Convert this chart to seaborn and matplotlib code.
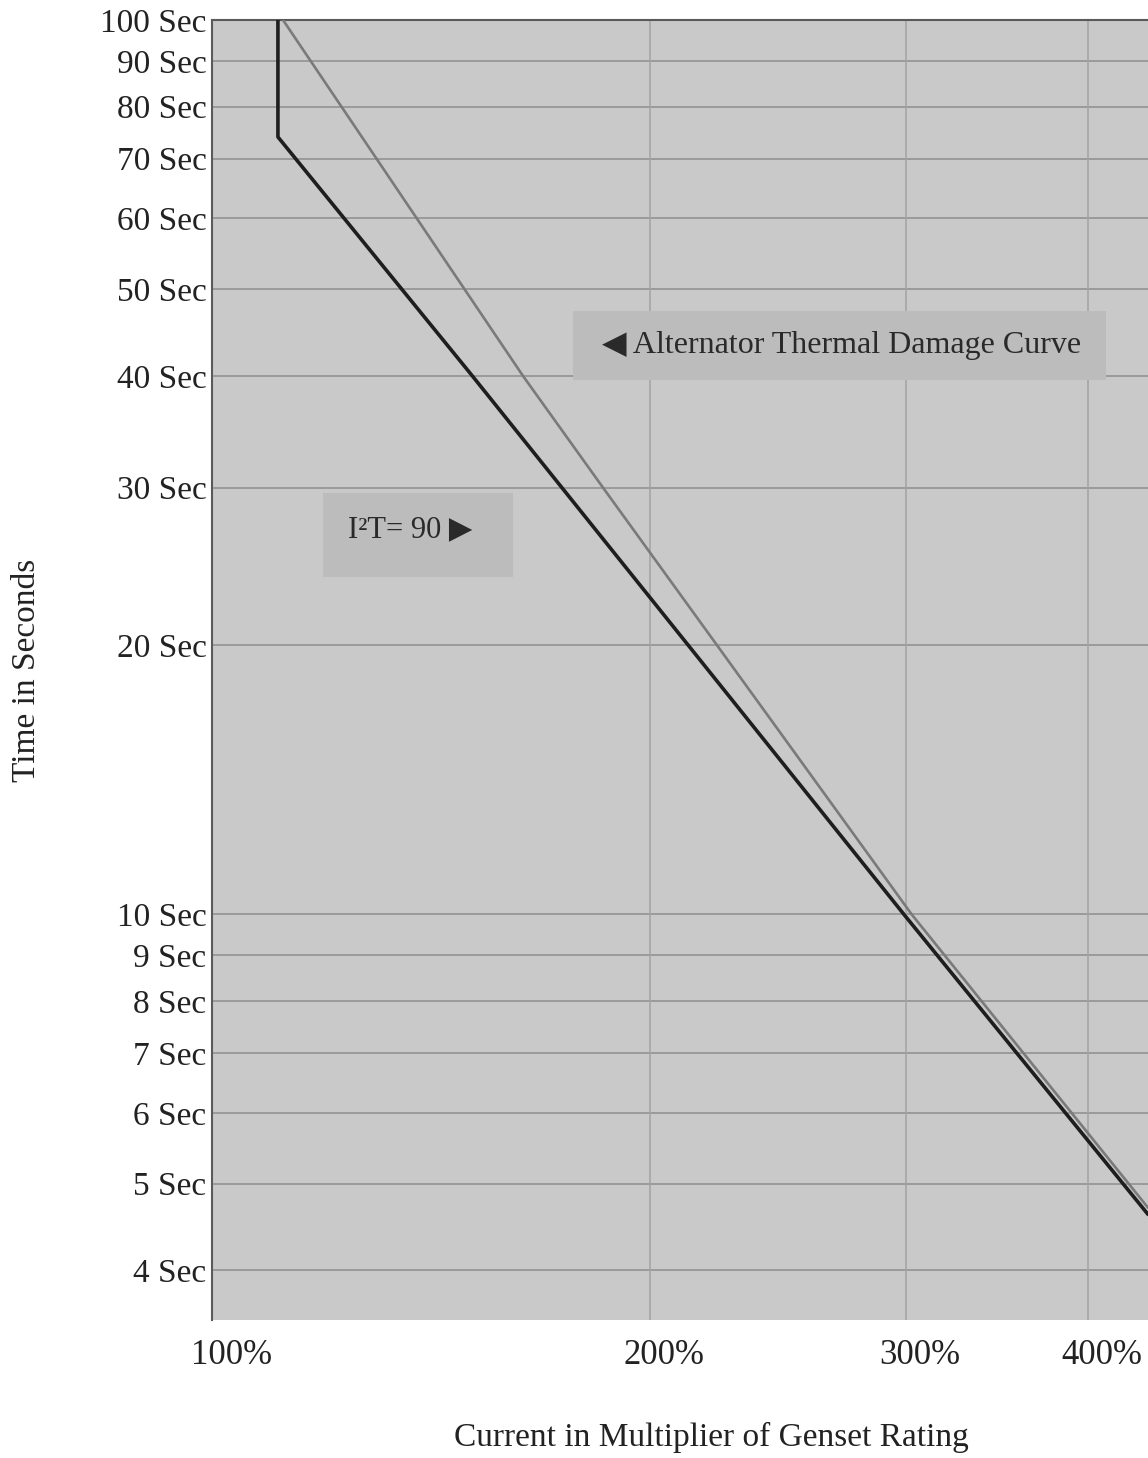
import matplotlib
matplotlib.use("Agg")
import matplotlib.pyplot as plt
import matplotlib.ticker as mticker
import matplotlib.transforms as mtrans
from matplotlib.patches import Rectangle
import seaborn as sns
import pandas as pd

# ---- data ----
i2t_current = [1.11, 1.11, 1.51, 1.74, 2.125, 2.99, 4.40]
i2t_time = [100, 74, 40, 30, 20, 10, 4.62]

damage_current = [1.119, 1.636, 1.857, 2.224, 3.027, 4.40]
damage_time = [100, 40, 30, 20, 10, 4.70]

y_ticks = [100, 90, 80, 70, 60, 50, 40, 30, 20, 10, 9, 8, 7, 6, 5, 4]
y_labels = [f"{v} Sec" for v in y_ticks]
x_ticks = [1, 2, 3, 4]
x_labels = ["100%", "200%", "300%", "400%"]

sns.set_theme(style="white")
plt.rcParams["font.family"] = ["Liberation Serif", "DejaVu Sans"]

W, H = 1148, 1458
fig = plt.figure(figsize=(W / 100, H / 100), dpi=100)
fig.patch.set_facecolor("white")
ax = fig.add_axes([212 / W, 1 - 1320 / H, 936 / W, 1300 / H])
ax.set_facecolor("#c9c9c9")

df_i2t = pd.DataFrame({"I": i2t_current, "t": i2t_time})
df_dmg = pd.DataFrame({"I": damage_current, "t": damage_time})

ax.set_xscale("log")
ax.set_yscale("log")

# grid
for v in y_ticks:
    ax.axhline(v, color="#8e8e8e", lw=1.1, zorder=1)
for v in x_ticks[1:]:
    ax.axvline(v, color="#a2a2a2", lw=1.1, zorder=1)

sns.lineplot(data=df_dmg, x="I", y="t", sort=False, estimator=None,
             color="#7a7a7a", lw=1.9, ax=ax, zorder=4)
sns.lineplot(data=df_i2t, x="I", y="t", sort=False, estimator=None,
             color="#1e1e1e", lw=2.6, ax=ax, zorder=5)

ax.set_xlim(1.0, 4.40)
ax.set_ylim(3.52, 100)

ax.yaxis.set_major_locator(mticker.FixedLocator(y_ticks))
ax.yaxis.set_major_formatter(mticker.FixedFormatter(y_labels))
ax.yaxis.set_minor_locator(mticker.NullLocator())
ax.xaxis.set_major_locator(mticker.FixedLocator(x_ticks))
ax.xaxis.set_major_formatter(mticker.FixedFormatter(x_labels))
ax.xaxis.set_minor_locator(mticker.NullLocator())
ax.tick_params(axis="y", length=0, pad=4, labelsize=24, labelcolor="#222222")
ax.tick_params(axis="x", length=0, pad=14, labelsize=25, labelcolor="#222222")
for k, lab in enumerate(ax.get_xticklabels()):
    dx = 20 if k == 0 else 14
    lab.set_transform(lab.get_transform() + mtrans.ScaledTranslation(dx / 100, 0, fig.dpi_scale_trans))

ax.set_xlabel("")
ax.set_ylabel("")

for side in ["left", "top"]:
    ax.spines[side].set_color("#5a5a5a")
    ax.spines[side].set_linewidth(1.5)
for side in ["right", "bottom"]:
    ax.spines[side].set_visible(False)

# annotation boxes
ax.add_patch(Rectangle((0.3853, 0.723), 0.5698, 0.053, transform=ax.transAxes,
                       facecolor="#bcbcbc", edgecolor="none", zorder=2))
ax.text(0.4167, 0.750, "\u25C0 Alternator Thermal Damage Curve", transform=ax.transAxes,
        ha="left", va="center", fontsize=23, color="#2a2a2a", zorder=6)

ax.add_patch(Rectangle((0.1186, 0.5715), 0.203, 0.0645, transform=ax.transAxes,
                       facecolor="#bcbcbc", edgecolor="none", zorder=2))
ax.text(0.1453, 0.6077, "I\u00B2T= 90 \u25B6", transform=ax.transAxes,
        ha="left", va="center", fontsize=22, color="#2a2a2a", zorder=6)

fig.text(27 / W, 1 - 670 / H, "Time in Seconds", rotation=90, ha="center", va="center",
         fontsize=24, color="#222222")
fig.text(711 / W, 1 - 1437 / H, "Current in Multiplier of Genset Rating", ha="center",
         va="center", fontsize=24, color="#222222")

fig.savefig("out.png", dpi=100)
